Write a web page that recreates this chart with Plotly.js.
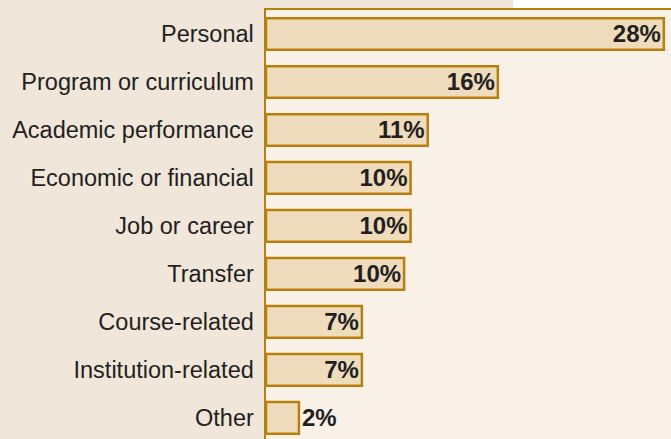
<!DOCTYPE html>
<html>
<head>
<meta charset="utf-8">
<script src="https://cdn.plot.ly/plotly-3.0.1.min.js"></script>
<style>html,body{margin:0;padding:0;}#chart{width:671px;height:439px;}</style>
</head>
<body>
<div id="chart"></div>
<script>
const categories = ["Personal","Program or curriculum","Academic performance","Economic or financial","Job or career","Transfer","Course-related","Institution-related","Other"];
const values = [27.8, 16.2, 11.3, 10.1, 10.1, 9.65, 6.7, 6.7, 2.3];
const labels = ["28%","16%","11%","10%","10%","10%","7%","7%","2%"];
const labelPositions = ["inside","inside","inside","inside","inside","inside","inside","inside","outside"];

const gold = "#b98009";
const valueFont = {family: "Liberation Sans, Arial, sans-serif", size: 24, color: "#231f20", weight: "bold"};
const trace = {
  type: "bar",
  orientation: "h",
  x: values,
  y: categories,
  text: labels,
  textposition: labelPositions,
  insidetextanchor: "end",
  constraintext: "none",
  cliponaxis: false,
  textfont: valueFont,
  insidetextfont: valueFont,
  outsidetextfont: valueFont,
  width: 0.66,
  marker: {color: "#eedcbd", line: {color: gold, width: 2.5}},
  hoverinfo: "none"
};

const layout = {
  width: 671, height: 439,
  margin: {l: 266, r: 0, t: 10, b: 0, pad: 0},
  paper_bgcolor: "#f0e6d9",
  plot_bgcolor: "#f9f1e8",
  showlegend: false,
  font: {family: "Liberation Sans, Arial, sans-serif", size: 23.5, color: "#231f20"},
  xaxis: {
    range: [0, 28.3], side: "top", showline: true, linecolor: gold, linewidth: 2.5,
    showgrid: false, zeroline: false, showticklabels: false, ticks: ""
  },
  yaxis: {
    type: "category", range: [8.44, -0.5], showline: true, linecolor: gold, linewidth: 2.5,
    showgrid: false, zeroline: false, ticks: "", ticklabelstandoff: 5,
    tickfont: {family: "Liberation Sans, Arial, sans-serif", size: 23.5, color: "#231f20"}
  },
  shapes: [{
    type: "rect", xref: "paper", yref: "paper", layer: "below",
    x0: 0.61, x1: 1.01, y0: 1.0, y1: 1.05,
    fillcolor: "#ffffff", line: {width: 0}
  }]
};

Plotly.newPlot("chart", [trace], layout, {displayModeBar: false, staticPlot: true});
</script>
</body>
</html>
